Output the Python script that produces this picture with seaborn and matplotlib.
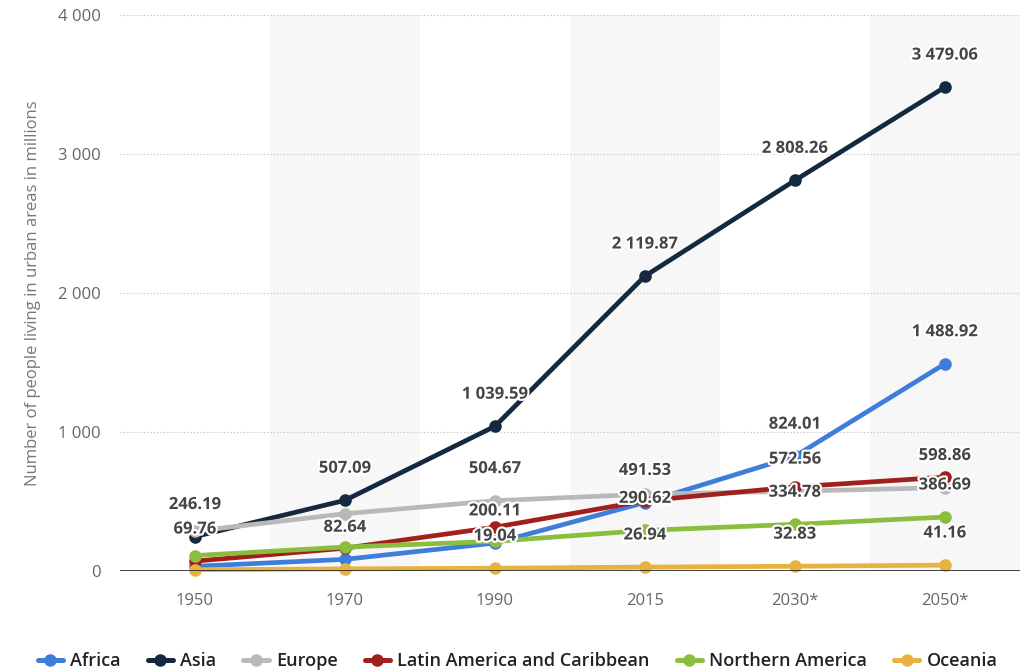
import pandas as pd
import seaborn as sns
import matplotlib.pyplot as plt
import matplotlib.patheffects as pe
from matplotlib.lines import Line2D

# Urban population by region (millions)
years = ["1950", "1970", "1990", "2015", "2030*", "2050*"]
regions = ["Africa", "Asia", "Europe", "Latin America and Caribbean", "Northern America", "Oceania"]

africa = [32.66, 82.64, 200.11, 491.53, 824.01, 1488.92]
asia = [246.19, 507.09, 1039.59, 2119.87, 2808.26, 3479.06]
europe = [285.0, 410.9, 504.67, 551.0, 572.56, 598.86]
latam = [69.76, 163.0, 314.0, 504.0, 604.0, 674.0]
n_america = [110.0, 171.0, 212.0, 290.62, 334.78, 386.69]
oceania = [8.0, 14.0, 19.04, 26.94, 32.83, 41.16]

colors = ["#3f7ddb", "#14283f", "#b9b9b9", "#a11f1c", "#8bbd3e", "#e8b23f"]

# which points carry a visible value label
shown_labels = [
    ("Asia", "1950"), ("Asia", "1970"), ("Asia", "1990"), ("Asia", "2015"),
    ("Asia", "2030*"), ("Asia", "2050*"),
    ("Latin America and Caribbean", "1950"),
    ("Africa", "1970"),
    ("Europe", "1990"), ("Africa", "1990"), ("Oceania", "1990"),
    ("Africa", "2015"), ("Northern America", "2015"), ("Oceania", "2015"),
    ("Africa", "2030*"), ("Europe", "2030*"), ("Northern America", "2030*"), ("Oceania", "2030*"),
    ("Africa", "2050*"), ("Europe", "2050*"), ("Northern America", "2050*"), ("Oceania", "2050*"),
]

series = dict(zip(regions, [africa, asia, europe, latam, n_america, oceania]))
df = pd.DataFrame([(r, y, v) for r in regions for y, v in zip(years, series[r])],
                  columns=["region", "year", "value"])


def fmt(v):
    return f"{v:,.2f}".replace(",", " ")


sns.set_theme(style="white")
plt.rcParams['font.family'] = ['Open Sans', 'DejaVu Sans']

fig = plt.figure(figsize=(10.25, 6.7), dpi=100)
ax = fig.add_axes([0.117, 0.148, 0.878, 0.83])

for i in range(1, len(years), 2):
    ax.axvspan(i - 0.5, i + 0.5, color="#f7f7f7", zorder=0, lw=0)

sns.pointplot(data=df, x="year", y="value", hue="region", order=years, hue_order=regions,
              palette=colors, errorbar=None, markersize=6.5, linewidth=3.4, ax=ax)
for coll in ax.collections + ax.lines:
    coll.set_clip_on(False)

for region, yr in shown_labels:
    v = series[region][years.index(yr)]
    ax.annotate(fmt(v), xy=(years.index(yr), v), xytext=(0, 17), textcoords="offset points",
                ha="center", va="bottom", fontsize=12, fontweight="bold", color="#454545",
                path_effects=[pe.withStroke(linewidth=3, foreground="white")], zorder=10)

ax.set_xlim(-0.5, len(years) - 0.5)
ax.set_ylim(0, 4000)
ax.set_yticks([0, 1000, 2000, 3000, 4000])
ax.yaxis.set_major_formatter(lambda x, p: f"{x:,.0f}".replace(",", " "))
ax.grid(True, axis="y", linestyle=(0, (1, 2)), color="#bbbbbb", lw=0.8)
ax.axhline(0, color="#222222", lw=1.2, zorder=3)
for s in ax.spines.values():
    s.set_visible(False)
ax.tick_params(axis="both", length=0, labelsize=12, labelcolor="#666666")
ax.tick_params(axis="x", pad=16)
ax.tick_params(axis="y", pad=14)
ax.set_xlabel("")
ax.set_ylabel("Number of people living in urban areas in millions", fontsize=12, color="#777777", labelpad=12)

ax.get_legend().remove()
handles = [Line2D([0], [0], color=c, lw=3.6, marker="o", markersize=8) for c in colors]
fig.legend(handles, regions, loc="lower center", bbox_to_anchor=(0.505, -0.025), ncol=6,
           frameon=False, handlelength=1.4, handletextpad=0.4, columnspacing=1.5,
           labelcolor="#222222", prop={"weight": "semibold", "size": 13})

fig.savefig("out.png", dpi=100)
